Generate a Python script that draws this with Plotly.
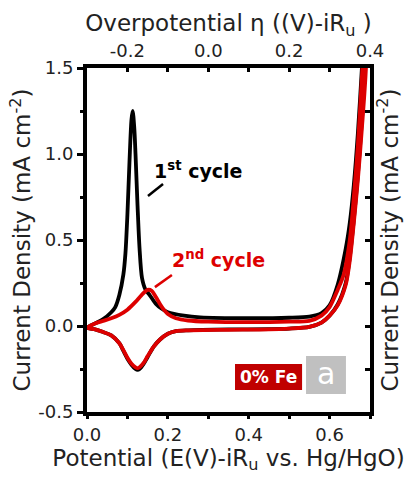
import plotly.graph_objects as go

# 1st cycle: anodic sweep then cathodic sweep (E vs Hg/HgO, J in mA cm^-2)
E_fwd_1 = [0.00, 0.02, 0.04, 0.06, 0.07, 0.08, 0.09, 0.095, 0.10, 0.105, 0.11, 0.113,
           0.117, 0.12, 0.125, 0.13, 0.136, 0.145, 0.155, 0.17, 0.185, 0.20, 0.24, 0.28,
           0.40, 0.50, 0.55, 0.58, 0.60, 0.62, 0.64, 0.65, 0.66, 0.67, 0.68, 0.69, 0.70]
J_fwd_1 = [-0.01, 0.015, 0.04, 0.08, 0.11, 0.18, 0.30, 0.42, 0.65, 0.95, 1.20, 1.25,
           1.15, 1.00, 0.70, 0.45, 0.28, 0.21, 0.18, 0.13, 0.10, 0.08, 0.06, 0.05,
           0.045, 0.048, 0.055, 0.075, 0.12, 0.24, 0.45, 0.60, 0.82, 1.12, 1.50, 1.95, 2.40]
E_rev_1 = [0.70, 0.69, 0.68, 0.67, 0.66, 0.65, 0.64, 0.62, 0.60, 0.58, 0.55, 0.50,
           0.45, 0.35, 0.25, 0.22, 0.20, 0.18, 0.165, 0.15, 0.14, 0.13, 0.125, 0.12,
           0.11, 0.10, 0.09, 0.08, 0.06, 0.04, 0.02, 0.00]
J_rev_1 = [2.40, 1.60, 1.20, 0.88, 0.62, 0.40, 0.25, 0.125, 0.06, 0.02, -0.005, -0.015,
           -0.018, -0.02, -0.025, -0.03, -0.045, -0.08, -0.12, -0.18, -0.22, -0.25, -0.255, -0.25,
           -0.225, -0.19, -0.145, -0.10, -0.055, -0.035, -0.02, -0.01]

# 2nd cycle
E_fwd_2 = [0.00, 0.02, 0.04, 0.06, 0.08, 0.10, 0.12, 0.135, 0.15, 0.16, 0.17, 0.18,
           0.19, 0.20, 0.22, 0.25, 0.30, 0.40, 0.50, 0.55, 0.58, 0.60, 0.62, 0.635,
           0.65, 0.66, 0.67, 0.68, 0.69, 0.70]
J_fwd_2 = [-0.01, 0.015, 0.03, 0.045, 0.065, 0.095, 0.14, 0.18, 0.21, 0.205, 0.17, 0.13,
           0.095, 0.07, 0.045, 0.032, 0.025, 0.022, 0.025, 0.03, 0.06, 0.11, 0.21, 0.30,
           0.50, 0.75, 1.05, 1.45, 1.90, 2.40]
E_rev_2 = [0.70, 0.69, 0.68, 0.67, 0.66, 0.65, 0.64, 0.62, 0.60, 0.58, 0.55, 0.50,
           0.45, 0.35, 0.25, 0.22, 0.20, 0.18, 0.165, 0.15, 0.14, 0.13, 0.125, 0.12,
           0.11, 0.10, 0.09, 0.08, 0.06, 0.04, 0.02, 0.00]
J_rev_2 = [2.40, 1.50, 1.15, 0.85, 0.60, 0.38, 0.24, 0.12, 0.06, 0.02, -0.005, -0.015,
           -0.02, -0.022, -0.025, -0.03, -0.045, -0.08, -0.12, -0.175, -0.215, -0.24, -0.245, -0.24,
           -0.22, -0.185, -0.14, -0.10, -0.055, -0.035, -0.02, -0.01]

# equilibrium potential used for the overpotential scale (eta = E - E0)
E0 = 0.3

# axis ticks
x_ticks = [0.0, 0.1, 0.2, 0.3, 0.4, 0.5, 0.6, 0.7]
x_labels = ["0.0", "", "0.2", "", "0.4", "", "0.6", ""]
eta_ticks = [-0.3, -0.2, -0.1, 0.0, 0.1, 0.2, 0.3, 0.4]
eta_labels = ["", "-0.2", "", "0.0", "", "0.2", "", "0.4"]
y_ticks = [-0.5, 0.0, 0.5, 1.0, 1.5]
y_labels = ["-0.5", "0.0", "0.5", "1.0", "1.5"]
y_right_ticks = [-0.5, -0.25, 0.0, 0.25, 0.5, 0.75, 1.0, 1.25, 1.5]

FONT = "DejaVu Sans, Liberation Sans, Arial, sans-serif"
TXT = "#222222"
BLACK = "#000000"
RED = "#dd0000"
TITLE_SIZE = 23
TICK_SIZE = 18

fig = go.Figure()
fig.add_trace(go.Scatter(x=E_fwd_1 + E_rev_1, y=J_fwd_1 + J_rev_1, mode="lines",
                         line=dict(color=BLACK, width=3.8, shape="spline", smoothing=0.8),
                         showlegend=False, hoverinfo="skip"))
fig.add_trace(go.Scatter(x=E_fwd_2 + E_rev_2, y=J_fwd_2 + J_rev_2, mode="lines",
                         line=dict(color=RED, width=3.8, shape="spline", smoothing=0.8),
                         showlegend=False, hoverinfo="skip"))
# same 2nd-cycle data on the overpotential axes so the top/right axes are drawn
fig.add_trace(go.Scatter(x=[e - E0 for e in E_fwd_2 + E_rev_2], y=J_fwd_2 + J_rev_2,
                         xaxis="x2", yaxis="y2", mode="lines", opacity=0,
                         line=dict(width=0), showlegend=False, hoverinfo="skip"))

axis_common = dict(showline=True, linewidth=4, linecolor=BLACK, showgrid=False,
                   zeroline=False, tickcolor=BLACK,
                   tickfont=dict(family=FONT, size=TICK_SIZE, color=TXT))
title_font = dict(family=FONT, size=TITLE_SIZE, color=TXT)

fig.update_layout(
    width=416, height=478,
    margin=dict(l=87, r=46, t=68, b=66),
    paper_bgcolor="white", plot_bgcolor="white",
    font=dict(family=FONT, color=TXT),
    xaxis=dict(range=[0, 0.7], tickmode="array", tickvals=x_ticks, ticktext=x_labels,
               ticks="outside", ticklen=3, tickwidth=3,
               title=dict(text="Potential (E(V)-iR<sub>u</sub> vs. Hg/HgO)",
                          font=title_font, standoff=2),
               **axis_common),
    yaxis=dict(range=[-0.5, 1.5], tickmode="array", tickvals=y_ticks, ticktext=y_labels,
               ticks="outside", ticklen=6, tickwidth=3,
               minor=dict(dtick=0.25, tick0=-0.5, ticks="outside", ticklen=3,
                          tickwidth=3, tickcolor=BLACK),
               title=dict(text="Current Density (mA cm<sup>-2</sup>)",
                          font=title_font, standoff=2),
               **axis_common),
    xaxis2=dict(range=[-0.3, 0.4], overlaying="x", side="top", anchor="y2",
                tickmode="array", tickvals=eta_ticks, ticktext=eta_labels,
                ticks="inside", ticklen=4, tickwidth=3,
                title=dict(text="Overpotential \u03b7 ((V)-iR<sub>u</sub> )",
                           font=title_font, standoff=2),
                **axis_common),
    yaxis2=dict(range=[-0.5, 1.5], overlaying="y", side="right", anchor="x2",
                tickmode="array", tickvals=y_right_ticks, showticklabels=False,
                ticks="inside", ticklen=5, tickwidth=3,
                title=dict(text="Current Density (mA cm<sup>-2</sup>)",
                           font=title_font, standoff=10),
                **axis_common),
)

# cycle labels with pointer lines
fig.add_annotation(xref="paper", yref="paper", x=0.2297, y=0.703, xanchor="left",
                   yanchor="middle", showarrow=False,
                   text="<b>1<sup>st</sup> cycle</b>",
                   font=dict(family=FONT, size=19, color=BLACK))
fig.add_annotation(xref="paper", yref="paper", x=0.293, y=0.445, xanchor="left",
                   yanchor="middle", showarrow=False,
                   text="<b>2<sup>nd</sup> cycle</b>",
                   font=dict(family=FONT, size=19, color=RED))
fig.add_shape(type="line", xref="paper", yref="paper", x0=0.2155, y0=0.628,
              x1=0.2686, y1=0.663, line=dict(color=BLACK, width=2.5))
fig.add_shape(type="line", xref="paper", yref="paper", x0=0.240, y0=0.363,
              x1=0.300, y1=0.398, line=dict(color=RED, width=2.5))

# sample tag boxes
fig.add_shape(type="rect", xref="paper", yref="paper", x0=0.523, x1=0.760,
              y0=0.064, y1=0.1395, fillcolor="#c00000", line=dict(width=0), layer="above")
fig.add_annotation(xref="paper", yref="paper", x=0.6415, y=0.102, xanchor="center",
                   yanchor="middle", showarrow=False,
                   text="<b>0% Fe</b>", font=dict(family=FONT, size=17, color="white"))
fig.add_shape(type="rect", xref="paper", yref="paper", x0=0.774, x1=0.915,
              y0=0.052, y1=0.163, fillcolor="#c0c0c0", line=dict(width=0), layer="above")
fig.add_annotation(xref="paper", yref="paper", x=0.8445, y=0.113, xanchor="center",
                   yanchor="middle", showarrow=False,
                   text="a", font=dict(family=FONT, size=30, color="white"))

fig.write_html("out.html")
